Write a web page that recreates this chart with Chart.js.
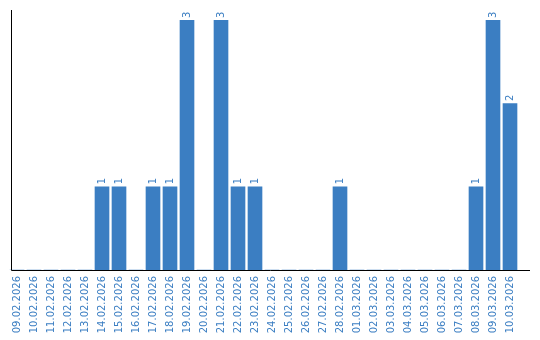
<!DOCTYPE html>
<html>
<head>
<meta charset="utf-8">
<script src="https://cdn.jsdelivr.net/npm/chart.js@4"></script>
<style>
  html, body { margin: 0; padding: 0; background: #fff; }
  #wrap { width: 540px; height: 340px; }
</style>
</head>
<body>
<div id="wrap"><canvas id="myChart"></canvas></div>
<script>
// Daten
const days = ['09.02.2026', '10.02.2026', '11.02.2026', '12.02.2026', '13.02.2026', '14.02.2026',
    '15.02.2026', '16.02.2026', '17.02.2026', '18.02.2026', '19.02.2026', '20.02.2026',
    '21.02.2026', '22.02.2026', '23.02.2026', '24.02.2026', '25.02.2026', '26.02.2026',
    '27.02.2026', '28.02.2026', '01.03.2026', '02.03.2026', '03.03.2026', '04.03.2026',
    '05.03.2026', '06.03.2026', '07.03.2026', '08.03.2026', '09.03.2026', '10.03.2026'];
const counts = [0, 0, 0, 0, 0, 1, 1, 0, 1, 1, 3, 0, 3, 1, 1, 0, 0, 0, 0, 1, 0, 0, 0, 0, 0, 0, 0, 1, 3, 2];

const blue = '#3b7ec2';

// Achsenlinien + Werte über den Balken
const extras = {
    id: 'extras',
    afterDatasetsDraw(chart) {
        const { ctx, chartArea } = chart;
        ctx.save();
        ctx.strokeStyle = '#000';
        ctx.lineWidth = 1;
        ctx.beginPath();
        ctx.moveTo(11.5, 10);
        ctx.lineTo(11.5, chartArea.bottom + 0.5);
        ctx.lineTo(530, chartArea.bottom + 0.5);
        ctx.stroke();

        ctx.fillStyle = blue;
        ctx.font = '10px "DejaVu Sans"';
        ctx.textAlign = 'left';
        ctx.textBaseline = 'middle';
        chart.getDatasetMeta(0).data.forEach((bar, i) => {
            if (!counts[i]) return;
            ctx.save();
            ctx.translate(bar.x, bar.y - 2.5);
            ctx.rotate(-Math.PI / 2);
            ctx.fillText(String(counts[i]), 0, 0);
            ctx.restore();
        });
        ctx.restore();
    }
};

const ctx = document.getElementById('myChart');

new Chart(ctx, {
    type: 'bar',
    data: {
        labels: days,
        datasets: [{
            data: counts,
            backgroundColor: blue,
            barThickness: 14
        }]
    },
    options: {
        responsive: true,
        maintainAspectRatio: false,
        animation: false,
        layout: { padding: { left: 8.5, right: 21.5, top: 10, bottom: 0 } },
        plugins: {
            legend: { display: false },
            tooltip: { enabled: false }
        },
        scales: {
            x: {
                grid: { display: false, drawTicks: false },
                border: { display: false },
                afterFit(scale) { scale.height = 70; },
                ticks: {
                    color: blue,
                    font: { family: 'DejaVu Sans', size: 10 },
                    minRotation: 90,
                    maxRotation: 90,
                    autoSkip: false,
                    padding: 6
                }
            },
            y: {
                min: 0,
                max: 3.125,
                grid: { display: false },
                border: { display: false },
                ticks: { display: false },
                afterFit(scale) { scale.width = 0; }
            }
        }
    },
    plugins: [extras]
});
</script>
</body>
</html>
